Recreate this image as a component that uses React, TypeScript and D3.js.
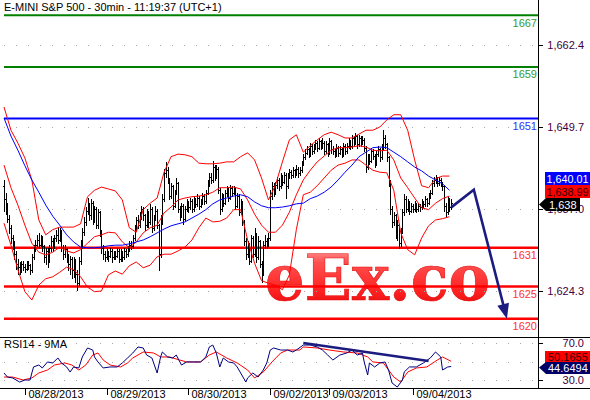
import React from 'react';
import * as d3 from 'd3';

// ---------- DATA ----------
const OPEN_FIRST = 1640.5;
const CLOSE = [
  1638.5, 1637, 1635.5, 1634, 1632.5, 1631.5, 1630, 1628.5, 1628, 1627.5,
  1628.5, 1628, 1627.75, 1628.5, 1628.25, 1627.5, 1629.5, 1630.75, 1631.5, 1632.25,
  1631.5, 1632.5, 1631.25, 1629.5, 1630.5, 1629, 1631, 1632, 1631.25, 1632.5,
  1633, 1632.25, 1633.5, 1631, 1630, 1630.75, 1629.5, 1628.5, 1629.25, 1627.5,
  1628.75, 1627, 1625.5, 1629, 1631.5, 1633.5, 1635, 1636.75, 1637.5, 1636,
  1638, 1635.5, 1637, 1634.5, 1636.5, 1633.5, 1631, 1630, 1629.5, 1630.25,
  1629.75, 1630.5, 1629.5, 1630, 1629.75, 1630.5, 1629.25, 1630.25, 1629.5, 1630.5,
  1630, 1630.75, 1631.5, 1631.25, 1632.5, 1634, 1635.25, 1634.5, 1636, 1637,
  1636, 1634.5, 1636.5, 1635, 1637, 1634, 1635.5, 1636.75, 1634.5, 1630,
  1635, 1638.5, 1642.5, 1643, 1641.5, 1639, 1640.5, 1637.5, 1639.5, 1641,
  1637, 1636, 1637.5, 1635.5, 1637, 1638, 1637.25, 1638.25, 1637, 1638.5,
  1637.75, 1638.75, 1637.5, 1638, 1639, 1638.25, 1639.5, 1641, 1642, 1641.5,
  1643.5, 1642, 1643.25, 1640, 1637, 1639, 1638, 1639.5, 1640, 1638.75,
  1640.25, 1639.5, 1640, 1637.5, 1639, 1636.5, 1638, 1635, 1632, 1630,
  1631.5, 1629, 1632.5, 1630, 1633, 1629.5, 1632, 1628.5, 1627, 1631.5,
  1632, 1631.5, 1632.5, 1639, 1640.5, 1639.5, 1640.75, 1641.5, 1640.5, 1642,
  1641.25, 1642.25, 1640.5, 1642, 1642.75, 1642.25, 1643, 1642.5, 1643.25, 1642.5,
  1643, 1644, 1645, 1645.75, 1646.25, 1645.5, 1646.75, 1646, 1646.5, 1647.25,
  1646.5, 1647.5, 1646.75, 1647.25, 1646, 1647, 1645.75, 1647.5, 1646.25, 1646,
  1645.5, 1646.5, 1645.75, 1646.25, 1645.5, 1646.75, 1646, 1646.75, 1647.5, 1646.75,
  1648, 1647.25, 1648.25, 1647, 1648, 1647.25, 1647.75, 1646.5, 1643.5, 1645,
  1644.5, 1646, 1645.25, 1644, 1645.5, 1646.25, 1645, 1646.5, 1648, 1647,
  1645, 1641, 1637, 1635, 1636, 1633, 1634.5, 1631.75, 1633.5, 1636.5,
  1638.5, 1637, 1638, 1636.75, 1637.5, 1637, 1637.75, 1637, 1637.5, 1637.25,
  1638, 1637.75, 1638.5, 1638, 1639, 1639.5, 1641, 1641.5, 1641.75, 1641,
  1641.5, 1641, 1640.5, 1637.5, 1636.5, 1638.5, 1637.25, 1638,
];
const HIGH = [
  1641.5, 1639.5, 1638, 1636, 1634.5, 1633, 1632, 1630.5, 1629.25, 1628.75,
  1629, 1629, 1628.5, 1629, 1629, 1628.5, 1630, 1631.5, 1632.25, 1633,
  1633.25, 1633, 1632.75, 1631.5, 1631, 1631, 1631.5, 1632.75, 1632.5, 1633,
  1633.75, 1634.25, 1634, 1633.75, 1631.5, 1631.5, 1631, 1630, 1629.75, 1629.5,
  1629.5, 1629.25, 1627.5, 1629.5, 1632.25, 1634, 1635.75, 1637.25, 1638.75, 1638,
  1638.5, 1638.25, 1637.5, 1637.25, 1637, 1636.75, 1633.75, 1631.5, 1630.5, 1630.75,
  1630.5, 1631, 1630.75, 1630.5, 1630.5, 1631, 1630.75, 1630.75, 1630.5, 1631,
  1630.75, 1631.25, 1632, 1632, 1633, 1634.5, 1635.75, 1636, 1636.5, 1637.5,
  1637.25, 1636.25, 1637, 1636.75, 1637.75, 1637.25, 1636, 1637.5, 1637, 1634.75,
  1636, 1639.25, 1643.25, 1644.25, 1643.5, 1641.75, 1641, 1640.75, 1640, 1641.75,
  1641.25, 1637.5, 1638, 1637.75, 1637.5, 1638.5, 1638.25, 1638.75, 1638.5, 1639,
  1638.75, 1639.25, 1639, 1638.5, 1639.5, 1639.25, 1640, 1641.5, 1642.5, 1642.5,
  1644.5, 1643.75, 1643.75, 1643.5, 1640.25, 1639.5, 1639.25, 1640, 1640.5, 1640.25,
  1640.75, 1640.5, 1640.5, 1640.25, 1639.5, 1639.25, 1638.5, 1638.25, 1635.25, 1632.5,
  1632, 1631.75, 1633, 1632.75, 1634, 1633.25, 1632.75, 1632.25, 1629, 1632,
  1633, 1632.5, 1633.25, 1640, 1641.25, 1641, 1641.25, 1642, 1641.75, 1642.5,
  1642.25, 1642.75, 1642.5, 1642.5, 1643.25, 1643, 1643.5, 1643.25, 1643.75, 1643.5,
  1643.5, 1644.5, 1645.5, 1646.25, 1646.75, 1646.5, 1647.25, 1647, 1647, 1647.75,
  1647.5, 1648, 1647.75, 1648, 1647.5, 1647.5, 1647.25, 1648, 1647.75, 1646.75,
  1646.25, 1647, 1646.75, 1646.75, 1646.5, 1647.25, 1647, 1647.25, 1648, 1647.75,
  1648.5, 1648.25, 1648.75, 1648.5, 1648.5, 1648.25, 1648.25, 1648, 1646.75, 1645.5,
  1645.5, 1646.5, 1646.25, 1645.5, 1646, 1646.75, 1646.5, 1647, 1649.25, 1648.5,
  1647.25, 1645.25, 1641.5, 1637.5, 1636.5, 1636.25, 1635.25, 1634.75, 1634, 1637,
  1639.25, 1639, 1638.5, 1638.25, 1638, 1637.75, 1638.25, 1638, 1638, 1637.75,
  1638.5, 1638.25, 1639, 1638.75, 1639.5, 1640, 1641.5, 1642, 1642.25, 1642,
  1642, 1641.75, 1641.25, 1640.75, 1638, 1639, 1638.75, 1638.5,
];
const LOW = [
  1636.75, 1636.25, 1635, 1633.25, 1631.75, 1630.75, 1629.25, 1627.75, 1627, 1627,
  1627.25, 1627.5, 1627.25, 1627.5, 1627.75, 1627, 1627.25, 1629.25, 1630.5, 1631.25,
  1631, 1631.25, 1630.5, 1628.75, 1628.5, 1628, 1628.75, 1630.5, 1630.5, 1631,
  1632, 1631.75, 1632, 1630.5, 1629.25, 1629.5, 1628.75, 1627.5, 1627, 1626.25,
  1626.5, 1625.75, 1624.5, 1625.25, 1628.5, 1631, 1633, 1634.5, 1636.25, 1635.25,
  1635.5, 1634.75, 1635, 1634, 1634, 1632.75, 1630.25, 1629.25, 1629, 1629.25,
  1629, 1629.5, 1628.75, 1629.25, 1629.25, 1629.5, 1628.75, 1629, 1629, 1629.25,
  1629.5, 1629.75, 1630.5, 1630.75, 1631, 1632.25, 1633.75, 1634, 1634.25, 1635.5,
  1635.25, 1633.75, 1634.25, 1634.25, 1634.75, 1633.5, 1633.75, 1635.25, 1634, 1627.5,
  1629.5, 1634.75, 1638.25, 1642, 1641, 1638.5, 1638.75, 1637, 1637.25, 1639.25,
  1636.5, 1635.25, 1635.75, 1634.75, 1635.25, 1636.75, 1636.5, 1637, 1636.5, 1636.75,
  1637.25, 1637.5, 1637, 1637.25, 1637.75, 1637.75, 1638, 1639.25, 1640.5, 1641,
  1641.25, 1641.5, 1641.75, 1639.5, 1636.25, 1636.75, 1637.5, 1637.75, 1639, 1638.25,
  1638.5, 1639, 1639.25, 1637, 1637.25, 1636, 1636.25, 1634.5, 1631.5, 1629.25,
  1629.5, 1628.5, 1628.75, 1629.5, 1629.75, 1628.75, 1629.25, 1628, 1625.75, 1626.75,
  1631, 1631, 1631.25, 1632.25, 1638.5, 1639, 1639.25, 1640.25, 1640, 1640.25,
  1640.75, 1641, 1638.75, 1640.25, 1641.75, 1641.75, 1642, 1642, 1642.25, 1642,
  1642.25, 1642.75, 1643.75, 1644.75, 1645.5, 1645, 1645.25, 1645.5, 1645.75, 1646.25,
  1646, 1646.25, 1646.25, 1646.5, 1645.5, 1645.75, 1645.25, 1645.5, 1645.75, 1645.5,
  1645, 1645.25, 1645.25, 1645.5, 1645, 1645.25, 1645.5, 1645.75, 1646.5, 1646.25,
  1646.5, 1646.75, 1647, 1646.5, 1646.75, 1646.75, 1647, 1646, 1642.75, 1643.25,
  1644, 1644.25, 1644.75, 1643.5, 1643.75, 1645.25, 1644.5, 1644.75, 1646.25, 1646.5,
  1644.5, 1640.5, 1636.25, 1634.25, 1634.5, 1632.5, 1632.25, 1631, 1631.25, 1633.25,
  1636, 1636.5, 1636.75, 1636.25, 1636.5, 1636.5, 1636.75, 1636.5, 1636.75, 1636.75,
  1637, 1637.25, 1637.5, 1637.5, 1637.75, 1638.75, 1639.25, 1640.5, 1641, 1640.5,
  1640.75, 1640.5, 1640, 1636.75, 1635.75, 1636.25, 1636.75, 1637,
];

// Bollinger bands and blue moving average, one value every 4 bars (bar 0, 4, ... 256)
const BAND_STEP = 4;
const BAND_UPPER = [
  1652.8, 1649.2, 1647.2, 1644.9, 1641.5, 1635.3, 1633.0, 1633.8, 1634.2, 1634.2,
  1634.2, 1634.7, 1638.9, 1639.9, 1640.4, 1640.1, 1639.8, 1638.4, 1634.1, 1633.4,
  1636.9, 1637.9, 1638.7, 1642.7, 1645.1, 1645.5, 1645.4, 1645.1, 1644.1, 1644.0,
  1644.0, 1644.1, 1644.3, 1644.3, 1645.1, 1645.7, 1644.6, 1641.8, 1638.4, 1640.7,
  1644.3, 1647.7, 1648.5, 1645.8, 1646.8, 1647.7, 1648.5, 1648.9, 1648.5, 1648.0,
  1648.0, 1648.6, 1649.2, 1649.2, 1649.7, 1650.8, 1651.6, 1651.6, 1649.2, 1644.6,
  1640.6, 1640.3, 1641.7, 1642.1, 1642.1,
];
const BAND_MID = [
  1643.8, 1640.3, 1637.6, 1634.5, 1631.7, 1630.3, 1629.9, 1630.3, 1631.1, 1630.5,
  1630.2, 1630.7, 1631.7, 1632.7, 1633.0, 1633.4, 1633.3, 1631.9, 1631.0, 1631.9,
  1633.3, 1634.1, 1634.5, 1636.4, 1637.3, 1638.4, 1638.7, 1638.9, 1639.0, 1639.2,
  1639.6, 1640.3, 1640.3, 1640.4, 1640.1, 1638.4, 1636.2, 1634.5, 1633.4, 1633.4,
  1634.5, 1636.5, 1639.2, 1641.5, 1643.0, 1644.3, 1645.2, 1646.1, 1646.5, 1646.5,
  1646.6, 1646.8, 1646.6, 1646.1, 1646.0, 1646.1, 1644.6, 1641.8, 1640.3, 1638.7,
  1637.2, 1636.9, 1637.9, 1638.6, 1639.0,
];
const BAND_LOWER = [
  1634.8, 1631.4, 1627.6, 1624.2, 1622.9, 1625.2, 1626.2, 1626.5, 1627.2, 1628.0,
  1627.6, 1626.5, 1624.9, 1624.2, 1624.3, 1626.8, 1627.4, 1626.9, 1628.2, 1628.8,
  1627.9, 1628.3, 1629.6, 1630.0, 1630.0, 1630.5, 1631.1, 1632.2, 1634.1, 1635.6,
  1635.0, 1635.1, 1635.6, 1636.9, 1636.9, 1632.2, 1628.6, 1625.9, 1625.5, 1625.2,
  1624.5, 1626.8, 1633.8, 1639.2, 1639.6, 1640.6, 1641.8, 1643.0, 1643.8, 1644.1,
  1644.6, 1644.6, 1643.8, 1643.0, 1642.7, 1642.6, 1639.9, 1633.3, 1630.7, 1629.9,
  1632.5, 1634.4, 1635.3, 1635.5, 1635.8,
];
const MA_BLUE = [
  1651.1, 1648.3, 1646.1, 1643.7, 1641.5, 1639.6, 1637.6, 1635.9, 1634.5, 1633.0,
  1631.9, 1631.1, 1631.0, 1631.0, 1631.1, 1631.3, 1631.4, 1631.4, 1631.6, 1631.9,
  1632.2, 1632.7, 1633.3, 1633.9, 1634.4, 1634.7, 1635.0, 1635.6, 1636.2, 1636.9,
  1637.8, 1638.4, 1638.7, 1639.0, 1639.2, 1638.9, 1638.1, 1637.5, 1637.2, 1637.2,
  1637.3, 1637.5, 1637.8, 1637.9, 1638.6, 1639.0, 1639.6, 1640.4, 1641.5, 1642.7,
  1643.8, 1645.1, 1645.8, 1646.5, 1646.6, 1646.5, 1645.8, 1645.1, 1644.3, 1643.5,
  1642.9, 1642.1, 1641.5, 1640.9, 1639.9,
];

// RSI(14) and its 9-period MA, read at these bar positions
const RSI_IDX = [0,2,5,9,12,15,16,17,20,22,25,28,31,33,36,38,40,43,45,48,51,52,54,57,61,65,68,71,74,77,80,82,85,88,90,91,94,97,99,102,105,109,113,116,118,120,122,124,126,129,132,134,136,139,140,143,146,149,151,153,155,159,163,166,168,172,176,180,183,186,189,193,197,200,203,206,207,209,210,213,216,219,221,223,226,229,230,233,237,241,245,248,251,252,255,257];
const RSI_VAL = [37.6,33.2,32.2,27.8,30,30,37.6,44.1,46.2,43,49.5,48.4,53.8,48.4,44.1,38.6,44.1,43,54.9,64.6,62.4,54.9,49.5,43,44.1,44.1,48.4,53.8,59.2,65.7,64.6,57,53.8,37.6,54.9,60.3,54.9,53.8,57,46.2,49.5,49.5,49.5,54.9,65.7,67.8,59.2,44.1,53.8,49.5,48.4,44.1,37.6,27.8,32.2,37.6,33.2,40.8,48.4,62.4,64.6,62.4,62.4,60.3,62.4,67.8,67.8,65.7,62.4,57,51.6,57,59.2,62.4,57,59.2,49.5,35.4,48.4,44.1,48.4,49.5,40.8,26.8,22.4,30,38.6,44.1,44.1,48.4,53.8,60.3,54.9,40.8,44.1,44.6];
const RSIMA_IDX = [0,5,11,16,20,25,29,35,39,43,47,51,54,57,61,67,71,74,80,86,90,95,101,105,113,118,122,128,134,140,144,149,154,159,163,170,172,180,187,195,203,209,212,218,224,228,232,237,243,249,252,257];
const RSIMA_VAL = [33.2,33.2,30,32.2,37.6,40.8,46.2,48.4,46.2,40.8,46.2,57,59.2,51.6,46.2,44.1,48.4,53.8,60.3,59.2,54.9,54.9,51.6,49.5,49.5,57,60.3,53.8,48.4,40.8,32.2,38.6,49.5,59.2,62.4,62.4,65.7,64.6,62.4,60.3,59.2,54.9,49.5,48.4,33.2,27.8,38.6,43,44.1,51.6,54.9,50.2];

const LEVELS = [1667, 1659, 1651, 1631, 1625, 1620];
const LEVEL_COLORS = ['#008000', '#008000', '#0000ff', '#ff0000', '#ff0000', '#ff0000'];
const LEVEL_TEXT = ['#339933', '#339933', '#3333ff', '#ff3333', '#ff3333', '#ff3333'];
const PRICE_TICKS = [1624.3, 1637.0, 1649.7, 1662.4];
const RSI_GRID = [30, 50, 70];
const RSI_TICKS = [30, 70];
const DATE_IDX = [12, 59, 106, 153, 187, 235];
const DATE_LABELS = ['08/28/2013', '08/29/2013', '08/30/2013', '09/02/2013', '09/03/2013', '09/04/2013'];
const PROJ_IDX = [257, 270, 289];
const PROJ_PRICE = [1637.25, 1640, 1620];
const TREND_IDX = [172, 244];
const TREND_VAL = [70, 50.5];
const LAST_LABELS = ['1,640.01', '1,638.99', '1,638'];
const RSI_LAST_LABELS = ['50.1655', '44.6494'];
const TITLE = 'E-MINI S&P 500 - 30min - 11:19:37 (UTC+1)';

const FONT = "'Liberation Sans', Arial, sans-serif";

export default function App() {
  const x = d3.scaleLinear().domain([0, 257]).range([4, 451.2]);
  const yP = d3.scaleLinear().domain([1624.3, 1662.4]).range([291, 45]);
  const yR = d3.scaleLinear().domain([30, 70]).range([380, 343]);
  const fmt = d3.format(',.1f');

  const barPath = CLOSE.map((c, i) => {
    const o = i === 0 ? OPEN_FIRST : CLOSE[i - 1];
    const n = Math.round(x(i));
    const hi = Math.max(HIGH[i], o, c);
    const lo = Math.min(LOW[i], o, c);
    const yh = Math.round(yP(hi));
    const yl = Math.round(yP(lo)) + 1;
    const yo = Math.round(yP(o)) + 0.5;
    const yc = Math.round(yP(c)) + 0.5;
    return `M${n + 0.5},${yh}V${yl}M${n - 1},${yo}H${n + 1}M${n},${yc}H${n + 2}`;
  }).join('');

  const bandLine = d3.line<number>().x((_, i) => x(i * BAND_STEP)).y((v) => yP(v));
  const rsiLine = d3.line<number>().x((_, i) => x(RSI_IDX[i])).y((v) => yR(v));
  const rsiMaLine = d3.line<number>().x((_, i) => x(RSIMA_IDX[i])).y((v) => yR(v));
  const projLine = d3.line<number>().x((_, i) => x(PROJ_IDX[i])).y((v) => yP(v));

  // arrow head at the end of the projection
  const ax0 = x(PROJ_IDX[1]), ay0 = yP(PROJ_PRICE[1]);
  const ax1 = x(PROJ_IDX[2]), ay1 = yP(PROJ_PRICE[2]);
  const ang = Math.atan2(ay1 - ay0, ax1 - ax0);
  const hl = 15, hw = 6;
  const bx = ax1 - hl * Math.cos(ang), by = ay1 - hl * Math.sin(ang);
  const head = `M${ax1},${ay1}L${bx + hw * Math.sin(ang)},${by - hw * Math.cos(ang)}L${bx - hw * Math.sin(ang)},${by + hw * Math.cos(ang)}Z`;
  const lineEndX = ax1 - (hl - 2) * Math.cos(ang), lineEndY = ay1 - (hl - 2) * Math.sin(ang);
  const projPts = PROJ_PRICE.slice(0, 2);

  const PR = 538.5;

  return (
    <div style={{ position: 'absolute', left: 0, top: 0 }}>
      <svg width={590} height={400} style={{ display: 'block', background: '#ffffff' }}>
        <defs>
          <linearGradient id="wm" x1="0" y1="0" x2="0" y2="1">
            <stop offset="0" stopColor="#ffc0c0" />
            <stop offset="0.3" stopColor="#ff5050" />
            <stop offset="0.7" stopColor="#ff2020" />
            <stop offset="1" stopColor="#d00000" />
          </linearGradient>
        </defs>
        <rect x={0} y={0} width={590} height={400} fill="#ffffff" />

        {/* watermark */}
        <text x={265} y={300} fontFamily="'DejaVu Serif', serif" fontWeight="bold" fontSize={64}
          fill="url(#wm)" stroke="#e01010" strokeWidth={0.6} textLength={225} lengthAdjust="spacingAndGlyphs">eEx.co</text>

        {/* grid */}
        {PRICE_TICKS.map((t) => (
          <line key={'g' + t} x1={4} x2={538} y1={Math.round(yP(t)) + 0.5} y2={Math.round(yP(t)) + 0.5}
            stroke="#a8a8a8" strokeDasharray="1 11" />
        ))}
        {RSI_GRID.map((t) => (
          <line key={'rg' + t} x1={4} x2={538} y1={Math.round(yR(t)) + 0.5} y2={Math.round(yR(t)) + 0.5}
            stroke="#a8a8a8" strokeDasharray="1 11" />
        ))}

        {/* levels */}
        {LEVELS.map((lv, k) => (
          <g key={'lv' + lv}>
            <line x1={4} x2={538} y1={yP(lv)} y2={yP(lv)} stroke={LEVEL_COLORS[k]} strokeWidth={k < 3 ? 2 : 2.6} />
            <text x={537} y={yP(lv) + 11.5} textAnchor="end" fontFamily={FONT} fontSize={11} fill={LEVEL_TEXT[k]}>{lv}</text>
          </g>
        ))}

        {/* bars */}
        <path d={barPath} stroke="#000" strokeWidth={1} fill="none" shapeRendering="crispEdges" />

        {/* indicators */}
        <path d={bandLine(BAND_UPPER) || ''} stroke="#ff0000" strokeWidth={1} fill="none" />
        <path d={bandLine(BAND_MID) || ''} stroke="#ff0000" strokeWidth={1} fill="none" />
        <path d={bandLine(BAND_LOWER) || ''} stroke="#ff0000" strokeWidth={1} fill="none" />
        <path d={bandLine(MA_BLUE) || ''} stroke="#0000ff" strokeWidth={1} fill="none" />

        {/* projection arrow */}
        <path d={(projLine(projPts) || '') + `L${lineEndX},${lineEndY}`} stroke="#1c1c80" strokeWidth={2.6} fill="none" strokeLinejoin="miter" />
        <path d={head} fill="#1c1c80" />

        {/* title */}
        <text x={4} y={11} fontFamily={FONT} fontSize={11} fill="#000">{TITLE}</text>

        {/* RSI panel */}
        <text x={4} y={348} fontFamily={FONT} fontSize={11} fill="#000">RSI14 - 9MA</text>
        <path d={rsiMaLine(RSIMA_VAL) || ''} stroke="#ff0000" strokeWidth={1} fill="none" />
        <path d={rsiLine(RSI_VAL) || ''} stroke="#000080" strokeWidth={1} fill="none" />
        <line x1={x(TREND_IDX[0])} y1={yR(TREND_VAL[0])} x2={x(TREND_IDX[1])} y2={yR(TREND_VAL[1])} stroke="#1c1c80" strokeWidth={2.6} />

        {/* frame */}
        <line x1={PR} x2={PR} y1={0} y2={388} stroke="#000" />
        <line x1={0} x2={590} y1={337.5} y2={337.5} stroke="#000" />
        <line x1={0} x2={590} y1={388.5} y2={388.5} stroke="#000" />

        {/* price axis */}
        {PRICE_TICKS.map((t) => (
          <g key={'pt' + t}>
            <line x1={538} x2={543} y1={Math.round(yP(t)) + 0.5} y2={Math.round(yP(t)) + 0.5} stroke="#000" />
            <text x={584} y={yP(t) + 4} textAnchor="end" fontFamily={FONT} fontSize={11} fill="#400040">{fmt(t)}</text>
          </g>
        ))}
        {RSI_TICKS.map((t) => (
          <g key={'rt' + t}>
            <line x1={538} x2={543} y1={Math.round(yR(t)) + 0.5} y2={Math.round(yR(t)) + 0.5} stroke="#000" />
            <text x={584} y={yR(t) + 4} textAnchor="end" fontFamily={FONT} fontSize={11} fill="#400040">{t.toFixed(1)}</text>
          </g>
        ))}

        {/* date axis */}
        {DATE_IDX.map((d, k) => {
          const xx = Math.round(x(d)) + 0.5;
          return (
            <g key={'d' + d}>
              <line x1={xx} x2={xx} y1={388} y2={395} stroke="#000" />
              <text x={xx + 3} y={398} fontFamily={FONT} fontSize={11} fill="#000">{DATE_LABELS[k]}</text>
            </g>
          );
        })}

        {/* last value boxes */}
        <rect x={545} y={172} width={45} height={13} fill="#0000ff" />
        <text x={546.5} y={182.5} fontFamily={FONT} fontSize={10.8} fill="#ffffff">{LAST_LABELS[0]}</text>
        <rect x={545} y={185} width={45} height={13} fill="#ff0000" />
        <text x={546.5} y={195.5} fontFamily={FONT} fontSize={10.8} fill="#330000">{LAST_LABELS[1]}</text>
        <path d="M539,204.5L546,198L580,198L580,211L546,211Z" fill="#000" />
        <text x={549} y={208.5} fontFamily={FONT} fontSize={11} fill="#ffffff">{LAST_LABELS[2]}</text>

        <rect x={545} y={351} width={45} height={12} fill="#ff0000" />
        <text x={548} y={361} fontFamily={FONT} fontSize={11} fill="#330000">{RSI_LAST_LABELS[0]}</text>
        <path d="M539,367.5L546,362L590,362L590,374L546,374Z" fill="#000066" />
        <text x={548} y={372} fontFamily={FONT} fontSize={11} fill="#ffffff">{RSI_LAST_LABELS[1]}</text>
      </svg>
    </div>
  );
}
